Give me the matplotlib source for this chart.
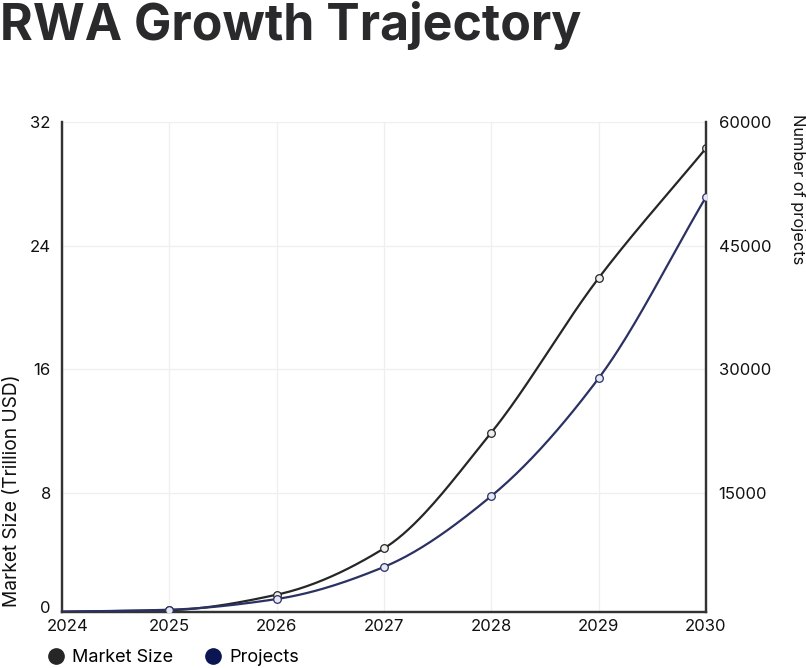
import numpy as np
import matplotlib
matplotlib.use("Agg")
import matplotlib.pyplot as plt
import matplotlib.transforms as mtransforms
from matplotlib.lines import Line2D

years = [2024, 2025, 2026, 2027, 2028, 2029, 2030]
market_size = [0.3, 0.4, 1.4, 4.4, 11.9, 21.9, 30.3]
projects = [560, 800, 2100, 6000, 14600, 28900, 50900]

title = "RWA Growth Trajectory"
left_label = "Market Size (Trillion USD)"
right_label = "Number of projects"
left_ticks = [8, 16, 24, 32]
right_ticks = [15000, 30000, 45000, 60000]

c_market = "#262626"
c_proj = "#2b3163"
c_proj_legend = "#0b1552"


def monotone(x, y, n=40):
    x = np.asarray(x, float); y = np.asarray(y, float)
    h = np.diff(x); d = np.diff(y) / h
    m = np.zeros_like(y)
    m[0] = d[0]; m[-1] = d[-1]
    for i in range(1, len(x) - 1):
        if d[i - 1] * d[i] <= 0:
            m[i] = 0
        else:
            m[i] = (3 * (h[i - 1] + h[i])) / ((2 * h[i] + h[i - 1]) / d[i - 1] + (h[i] + 2 * h[i - 1]) / d[i])
    xs, ys = [], []
    for i in range(len(x) - 1):
        t = np.linspace(0, 1, n)
        h00 = 2 * t**3 - 3 * t**2 + 1
        h10 = t**3 - 2 * t**2 + t
        h01 = -2 * t**3 + 3 * t**2
        h11 = t**3 - t**2
        xs.append(x[i] + t * h[i])
        ys.append(h00 * y[i] + h10 * h[i] * m[i] + h01 * y[i + 1] + h11 * h[i] * m[i + 1])
    return np.concatenate(xs), np.concatenate(ys)


plt.rcParams['font.family'] = ['Inter', 'DejaVu Sans']
fig = plt.figure(figsize=(8.06, 6.68), dpi=100)
ax = fig.add_axes([62 / 806, (668 - 611.7) / 668, (706 - 62) / 806, (611.7 - 122) / 668])
ax2 = ax.twinx()

ymin = 0.3
ax.set_ylim(ymin, 32)
ax2.set_ylim(ymin / 32 * 60000, 60000)
ax.set_xlim(2024, 2030)

xs, ys = monotone(years, market_size)
ax.plot(xs, ys, color=c_market, lw=1.6, zorder=3)
ax.plot(years[1:], market_size[1:], 'o', ms=5.5, mfc="#eeeeee", mec=c_market, mew=0.9, zorder=4)
xs2, ys2 = monotone(years, projects)
ax2.plot(xs2, ys2, color=c_proj, lw=1.6, zorder=3)
ax2.plot(years[1:], projects[1:], 'o', ms=5.5, mfc="#e6e8f2", mec=c_proj, mew=0.9, zorder=4)

ax.set_xticks(years)
ax.set_xticklabels([str(y) for y in years])
ax.set_yticks([ymin] + left_ticks)
ax.set_yticklabels(["0"] + [str(t) for t in left_ticks])
ax2.set_yticks(right_ticks)
ax2.set_yticklabels([str(t) for t in right_ticks])

ax.grid(True, color="#efefef", lw=0.9)
ax.set_axisbelow(True)
for a in (ax, ax2):
    a.spines['top'].set_visible(False)
    a.tick_params(length=0, labelsize=12, colors="#111111")
    for s in ('left', 'right', 'bottom'):
        a.spines[s].set_color("#333333")
        a.spines[s].set_linewidth(1.6)
ax.tick_params(axis='y', pad=8)
ax.tick_params(axis='x', pad=5)
ax2.tick_params(axis='y', pad=9)

# nudge the corner labels apart as in the reference
fig.canvas.draw()
xl0 = ax.get_xticklabels()[0]
xl0.set_transform(xl0.get_transform() + mtransforms.ScaledTranslation(6 / 100, 0, fig.dpi_scale_trans))
yl0 = ax.get_yticklabels()[0]
yl0.set_transform(yl0.get_transform() + mtransforms.ScaledTranslation(0, 5 / 100, fig.dpi_scale_trans))

fig.text(12 / 806, 1 - 491 / 668, left_label, rotation=90, fontsize=13.8,
         color="#111111", ha='center', va='center')
fig.text(797 / 806, 1 - 114 / 668, right_label, rotation=270, fontsize=11.8,
         color="#111111", ha='center', va='top')

fig.text(0.0, 1 - 25 / 668, title, fontsize=36, fontweight='bold', color="#2a2a2c",
         ha='left', va='center')

handles = [Line2D([], [], ls='', marker='o', ms=11, mfc=c_market, mec=c_market),
           Line2D([], [], ls='', marker='o', ms=11, mfc=c_proj_legend, mec=c_proj_legend)]
fig.legend(handles, ["Market Size", "Projects"], loc='center left',
           bbox_to_anchor=(29 / 806, 1 - 658 / 668), ncol=2, frameon=False,
           fontsize=13, handletextpad=0.3, columnspacing=1.6, handlelength=1.2)

fig.savefig("out.png", dpi=100)
